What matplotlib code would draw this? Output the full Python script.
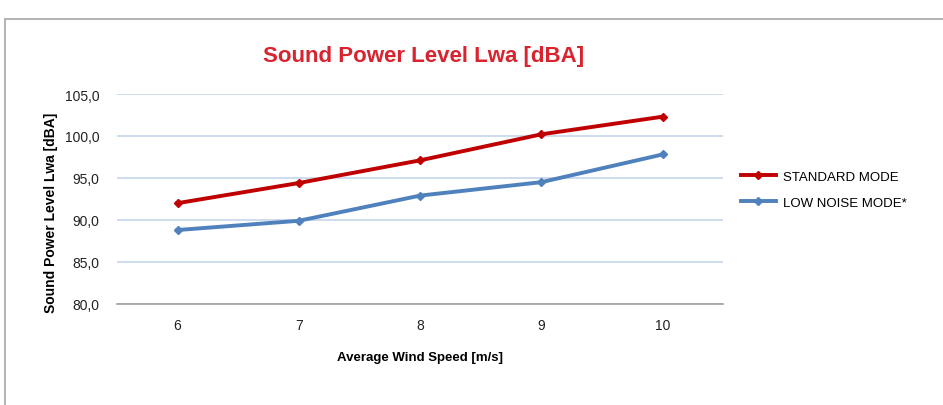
import matplotlib.pyplot as plt
from matplotlib.patches import Rectangle
from matplotlib.ticker import FuncFormatter

# wind speed categories
wind_speed = ['6', '7', '8', '9', '10']
standard_mode = [92.0, 94.4, 97.1, 100.2, 102.3]
low_noise_mode = [88.8, 89.9, 92.9, 94.5, 97.8]

plt.rcParams['font.family'] = ['Liberation Sans', 'DejaVu Sans']

fig = plt.figure(figsize=(9.43, 4.06), dpi=100)
ax = fig.add_axes([0.124, 0.249, 0.643, 0.517])

# outer chart frame (runs off the right and bottom edge)
fig.patches.append(Rectangle((5 / 943, -0.1), 1.2, 1 - 20 / 406 + 0.1,
                             transform=fig.transFigure, fill=False,
                             edgecolor='#a6a6a6', linewidth=1.2))

x = range(len(wind_speed))
ax.plot(x, standard_mode, color='#c00000', linewidth=2.8, marker='D',
        markersize=4, label='STANDARD MODE')
ax.plot(x, low_noise_mode, color='#4f81bd', linewidth=2.8, marker='D',
        markersize=4, label='LOW NOISE MODE*')

ax.set_xlim(-0.5, len(wind_speed) - 0.5)
ax.set_ylim(80, 105)
ax.set_yticks([80, 85, 90, 95, 100, 105])
ax.yaxis.set_major_formatter(FuncFormatter(lambda v, p: f'{v:.1f}'.replace('.', ',')))
ax.set_xticks(list(x))
ax.set_xticklabels(wind_speed)

ax.grid(axis='y', color='#c6d6ea', linewidth=1.2)
ax.set_axisbelow(True)
for s in ['top', 'right', 'left']:
    ax.spines[s].set_visible(False)
ax.spines['bottom'].set_color('#a0a0a0')
ax.spines['bottom'].set_linewidth(1.2)
ax.tick_params(length=0, labelsize=10, colors='#222222')
ax.tick_params(axis='x', pad=10)
ax.tick_params(axis='y', pad=12.5)

ax.set_xlabel('Average Wind Speed [m/s]', fontsize=9.5, fontweight='bold')
ax.xaxis.set_label_coords(0.5, -0.225)
ax.set_ylabel('Sound Power Level Lwa [dBA]', fontsize=10, fontweight='bold')
ax.yaxis.set_label_coords(-0.097, 0.44)

fig.text(0.449, 0.862, 'Sound Power Level Lwa [dBA]', color='#d9232e',
         fontsize=16, fontweight='bold', ha='center', va='center')

ax.legend(loc='center left', bbox_to_anchor=(1.01, 0.545), frameon=False,
          fontsize=9.5, handlelength=2.6, handletextpad=0.6, labelspacing=1.05)

fig.savefig('out.png', dpi=100)
